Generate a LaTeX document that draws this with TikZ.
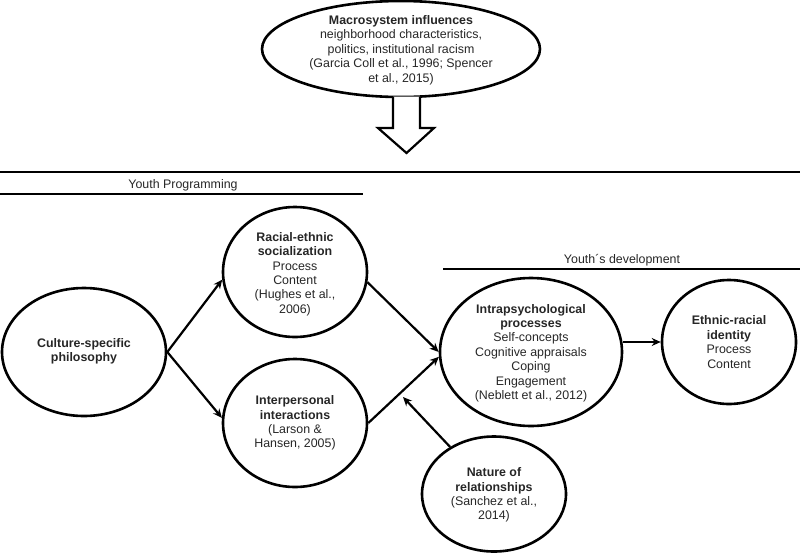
\documentclass[tikz,border=0pt]{standalone}
\usepackage{fontspec}
\setmainfont{Liberation Sans}
\usetikzlibrary{shapes.geometric,arrows.meta}
\tikzset{
  bub/.style={ellipse, draw=black, line width=2.6pt, inner sep=0pt, fill=none},
  txt/.style={align=center, inner sep=0pt, font=\fontsize{12.4}{14.4}\selectfont, text=black!85},
  conn/.style={line width=2.2pt, -{Stealth[length=9pt,width=8pt]}},
  rule/.style={line width=2.6pt},
}
\begin{document}
\begin{tikzpicture}[x=1pt,y=-1pt]
\useasboundingbox (0,0) rectangle (800,555);
% macrosystem
\node[bub, minimum width=278, minimum height=96] (macro) at (401,49) {};
\node[txt] (macro-t) at (401,50) {\textbf{Macrosystem influences}\\neighborhood characteristics,\\politics, institutional racism\\(Garcia Coll et al., 1996; Spencer\\et al., 2015)};
% hollow arrow
\coordinate (ha) at (406.5,96.5);
\draw[line width=2.2pt, line join=miter, fill=white] ([xshift=-13.5]ha) -- ++(0,31.5) -- ++(-15,0) -- (406.5,153) -- (434,128) -- (420,128) -- ([xshift=13.5]ha);
% rules
\coordinate (r1a) at (0,172); \coordinate (r1b) at (800,172);
\draw[rule] (r1a) -- (r1b);
\node[txt] (yp) at (183,185) {Youth Programming};
\coordinate (r2a) at (0,194); \coordinate (r2b) at (363,194);
\draw[rule] (r2a) -- (r2b);
\node[txt] (yd) at (622,260) {Youth´s development};
\coordinate (r3a) at (443,269); \coordinate (r3b) at (800,269);
\draw[rule] (r3a) -- (r3b);
% nodes
\node[bub, minimum width=164, minimum height=128] (cult) at (84,352) {};
\node[txt] (cult-t) at (84,351) {\textbf{Culture-specific}\\\textbf{philosophy}};
\node[bub, minimum width=144, minimum height=130] (rac) at (295,272) {};
\node[txt] (rac-t) at (295,274) {\textbf{Racial-ethnic}\\\textbf{socialization}\\Process\\Content\\(Hughes et al.,\\2006)};
\node[bub, minimum width=144, minimum height=128] (inter) at (295,423) {};
\node[txt] (inter-t) at (295,423) {\textbf{Interpersonal}\\\textbf{interactions}\\(Larson \&\\Hansen, 2005)};
\node[bub, minimum width=182, minimum height=148] (intra) at (531,352) {};
\node[txt] (intra-t) at (531,353) {\textbf{Intrapsychological}\\\textbf{processes}\\Self-concepts\\Cognitive appraisals\\Coping\\Engagement\\(Neblett et al., 2012)};
\node[bub, minimum width=134, minimum height=124] (eth) at (729,342) {};
\node[txt] (eth-t) at (729,342) {\textbf{Ethnic-racial}\\\textbf{identity}\\Process\\Content};
\node[bub, minimum width=144, minimum height=115] (nat) at (494,494) {};
\node[txt] (nat-t) at (494,495) {\textbf{Nature of}\\\textbf{relationships}\\(Sanchez et al.,\\2014)};
% connectors
\draw[conn] (cult.east) -- (rac.186);
\draw[conn] (cult.east) -- (inter.176);
\draw[conn] (rac.352) -- (intra.180);
\draw[conn] (inter.east) -- (intra.183);
\draw[conn] (intra.east |- eth.west) -- (eth.west);
\coordinate (nt) at (403,397);
\draw[conn] (nat.133) -- (nt);
\end{tikzpicture}
\end{document}
